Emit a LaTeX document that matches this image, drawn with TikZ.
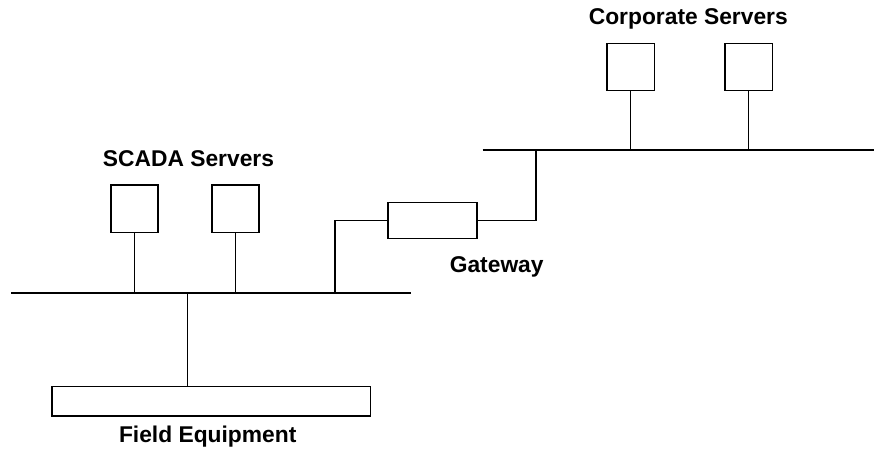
\documentclass[tikz,border=0pt]{standalone}
\usepackage{fontspec}
\setmainfont{Liberation Sans}
\begin{document}
\begin{tikzpicture}[x=1pt,y=-1pt,
  box/.style={draw, line width=1.3pt, inner sep=0pt, fill=white},
  bus/.style={line width=2pt},
  wire/.style={line width=1.2pt},
  lbl/.style={font=\fontsize{22.8}{27}\selectfont\bfseries, inner sep=0pt}]
\useasboundingbox (0,0) rectangle (874,450);
% bus ends and junctions
\coordinate (lbl0) at (11,292.7);
\coordinate (lbr) at (411,292.7);
\coordinate (tbl) at (482.7,150);
\coordinate (tbr) at (874,150);
\coordinate (j1) at (335,292.7);
\coordinate (j2) at (536,150);
\coordinate (j3) at (187.7,292.7);
% boxes
\node[box, minimum width=47, minimum height=47.5] (s1) at (134.5,208.8) {};
\node[box, minimum width=47, minimum height=47.5] (s2) at (235.5,208.8) {};
\node[box, minimum width=47.3, minimum height=47.3] (c1) at (630.5,67) {};
\node[box, minimum width=47.3, minimum height=47.3] (c2) at (748.5,67) {};
\node[box, minimum width=89, minimum height=36] (gw) at (432.5,220.7) {};
\node[box, minimum width=318.7, minimum height=29.3] (fe) at (211.3,401.3) {};
% buses
\draw[bus] (lbl0) -- (lbr);
\draw[bus] (tbl) -- (tbr);
% wires
\draw[wire] (s1.south) -- (s1.south |- lbl0);
\draw[wire] (s2.south) -- (s2.south |- lbl0);
\draw[wire] (c1.south) -- (c1.south |- tbl);
\draw[wire] (c2.south) -- (c2.south |- tbl);
\draw[wire] (gw.west) -| (j1);
\draw[wire] (gw.east) -| (j2);
\draw[wire] (j3) -- (j3 |- fe.north);
% labels
\node[lbl] (t1) at (188.5,158.5) {SCADA Servers};
\node[lbl] (t2) at (688.3,18.5) {Corporate Servers};
\node[lbl] (t3) at (496.7,266.5) {Gateway};
\node[lbl] (t4) at (207.7,437) {Field Equipment};
\end{tikzpicture}
\end{document}
